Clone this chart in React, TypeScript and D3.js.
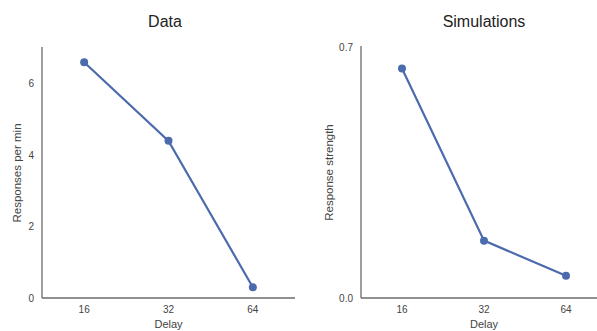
import React from "react";
import { scalePoint, scaleLinear, line } from "d3";

const delays = ["16", "32", "64"];
const dataValues = [6.6, 4.4, 0.3];
const simValues = [0.64, 0.16, 0.062];
const dataTicks = [0, 2, 4, 6];
const simTicks = [0, 0.7];

const blue = "#4c6bad";
const axisColor = "#6b6b6b";
const textColor = "#444";
const font = "'Liberation Sans', Arial, sans-serif";

type PanelProps = {
  title: string;
  yLabel: string;
  values: number[];
  yMax: number;
  ticks: number[];
  tickFmt: (v: number) => string;
  x0: number;
  x1: number;
  yTop: number;
  yBottom: number;
  yLabelX: number;
  titleX: number;
};

function Panel(p: PanelProps) {
  const x = scalePoint<string>().domain(delays).range([p.x0, p.x1]).padding(0.5);
  const y = scaleLinear().domain([0, p.yMax]).range([p.yBottom, p.yTop]);
  const pts = p.values.map((v, i) => [x(delays[i]) as number, y(v)] as [number, number]);
  const path = line()(pts) || "";
  return (
    <g fontFamily={font}>
      <text x={p.titleX} y={27} textAnchor="middle" fontSize={16} fill="#222">
        {p.title}
      </text>
      <line x1={p.x0} x2={p.x0} y1={p.yTop - 1} y2={p.yBottom} stroke={axisColor} strokeWidth={1.3} />
      <line x1={p.x0} x2={p.x1} y1={p.yBottom} y2={p.yBottom} stroke={axisColor} strokeWidth={1.3} />
      {p.ticks.map((t) => (
        <text
          key={t}
          x={p.x0 - 8}
          y={y(t)}
          dy="0.35em"
          textAnchor="end"
          fontSize={10}
          fill={textColor}
        >
          {p.tickFmt(t)}
        </text>
      ))}
      {delays.map((d) => (
        <text key={d} x={x(d)} y={313} textAnchor="middle" fontSize={10} fill={textColor}>
          {d}
        </text>
      ))}
      <text x={x("32")} y={328} textAnchor="middle" fontSize={11} fill={textColor}>
        Delay
      </text>
      <text
        transform={`translate(${p.yLabelX},${(p.yTop + p.yBottom) / 2}) rotate(-90)`}
        textAnchor="middle"
        fontSize={11.5}
        fill={textColor}
      >
        {p.yLabel}
      </text>
      <path d={path} fill="none" stroke={blue} strokeWidth={2.2} />
      {pts.map((pt, i) => (
        <circle key={i} cx={pt[0]} cy={pt[1]} r={4} fill={blue} />
      ))}
    </g>
  );
}

export default function App() {
  return (
    <svg
      width={597}
      height={331}
      style={{ position: "absolute", left: 0, top: 0, background: "#fff" }}
    >
      <Panel
        title="Data"
        yLabel="Responses per min"
        values={dataValues}
        yMax={7}
        ticks={dataTicks}
        tickFmt={(v) => String(v)}
        x0={42}
        x1={295}
        yTop={48}
        yBottom={298}
        yLabelX={21}
        titleX={165}
      />
      <Panel
        title="Simulations"
        yLabel="Response strength"
        values={simValues}
        yMax={0.7}
        ticks={simTicks}
        tickFmt={(v) => v.toFixed(1)}
        x0={361}
        x1={607}
        yTop={47}
        yBottom={298}
        yLabelX={333}
        titleX={484}
      />
    </svg>
  );
}
